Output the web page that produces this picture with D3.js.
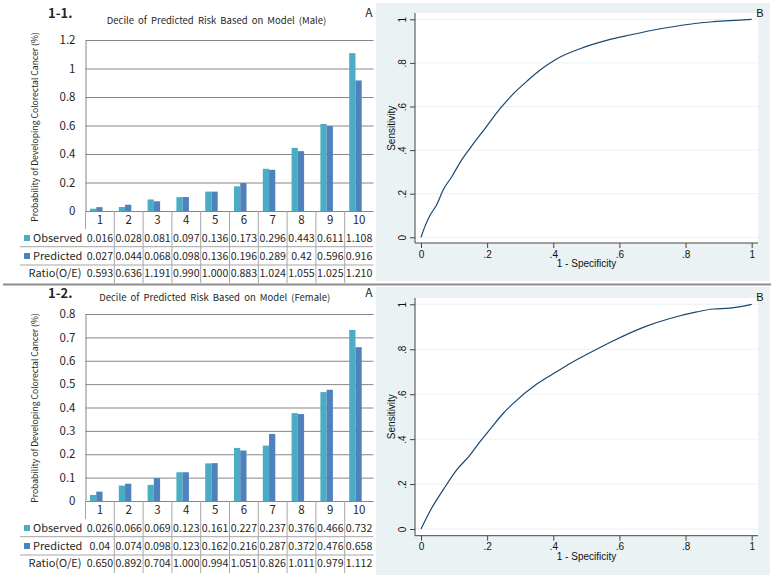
<!DOCTYPE html>
<html>
<head>
<meta charset="utf-8">
<script src="https://cdn.jsdelivr.net/npm/d3@7"></script>
<style>
  body { margin: 0; background: #fff; }
  svg { display: block; }
  .xl text { font-family: "Noto Sans CJK KR", "Noto Sans", sans-serif; fill: #262626; }
  .st text { font-family: "Liberation Sans", Arial, sans-serif; fill: #111; }
</style>
</head>
<body>
<svg id="chart" width="774" height="578"></svg>
<script>
// deciles shared by both tables
const deciles = [1, 2, 3, 4, 5, 6, 7, 8, 9, 10];

// male (1-1)
const maleObserved  = [0.016, 0.028, 0.081, 0.097, 0.136, 0.173, 0.296, 0.443, 0.611, 1.108];
const malePredicted = [0.027, 0.044, 0.068, 0.098, 0.136, 0.196, 0.289, 0.42, 0.596, 0.916];
const maleRatio     = [0.593, 0.636, 1.191, 0.990, 1.000, 0.883, 1.024, 1.055, 1.025, 1.210];
const maleTicks     = [0, 0.2, 0.4, 0.6, 0.8, 1, 1.2];

// female (1-2)
const femaleObserved  = [0.026, 0.066, 0.069, 0.123, 0.161, 0.227, 0.237, 0.376, 0.466, 0.732];
const femalePredicted = [0.04, 0.074, 0.098, 0.123, 0.162, 0.216, 0.287, 0.372, 0.476, 0.658];
const femaleRatio     = [0.650, 0.892, 0.704, 1.000, 0.994, 1.051, 0.826, 1.011, 0.979, 1.112];
const femaleTicks     = [0, 0.1, 0.2, 0.3, 0.4, 0.5, 0.6, 0.7, 0.8];

// ROC curves: [1 - specificity, sensitivity]
const maleRoc = [[0,0],[.012,.05],[.027,.10],[.047,.148],[.067,.217],[.093,.278],[.123,.355],
  [.153,.418],[.194,.50],[.239,.59],[.279,.658],[.319,.714],[.36,.767],[.41,.818],[.481,.865],
  [.561,.903],[.632,.928],[.733,.959],[.834,.982],[.884,.989],[1,1]];
const femaleRoc = [[0,0],[.032,.092],[.067,.174],[.108,.263],[.148,.329],[.178,.388],[.209,.444],
  [.249,.515],[.279,.559],[.35,.645],[.41,.70],[.451,.737],[.531,.80],[.582,.838],[.682,.903],
  [.753,.937],[.834,.966],[.884,.979],[.934,.983],[1,1]];
const rocTicks = [0, 0.2, 0.4, 0.6, 0.8, 1];

const cObs = "#4bacc6", cPred = "#4f81bd";

const svg = d3.select("#chart");

function drawBars(opt) {
  const g = svg.append("g").attr("class", "xl");
  const x = d3.scaleBand().domain(deciles).range([85.5, 373.5]);
  const sub = d3.scaleBand().domain(["obs", "pred"]).range([4.5, 17]);
  const y = d3.scaleLinear().domain([0, opt.ticks[opt.ticks.length - 1]]).range([opt.y0, opt.yTop]);

  g.append("text").attr("x", 48).attr("y", opt.tagY)
    .style("font-size", "13px").style("font-weight", "bold").text(opt.tag);
  g.append("text").attr("x", opt.titleX).attr("y", opt.subY).attr("text-anchor", "middle")
    .style("font-size", "9.5px").style("word-spacing", "2px").text(opt.title);
  g.append("text").attr("x", 369).attr("y", opt.tagY - 1).attr("text-anchor", "middle")
    .style("font-size", "12px").text("A");

  // y axis + gridlines
  const ax = g.append("g").attr("transform", "translate(85.5,0)")
    .call(d3.axisLeft(y).tickValues(opt.ticks).tickSizeInner(-288).tickSizeOuter(0).tickPadding(10)
      .tickFormat(d => String(+d.toFixed(1))));
  ax.select(".domain").attr("stroke", "#868686");
  ax.selectAll(".tick line").attr("stroke", "#868686");
  ax.selectAll(".tick text").style("font-size", "11.5px")
    .style("font-family", "'Noto Sans CJK KR', 'Noto Sans', sans-serif").attr("fill", "#262626");

  g.append("text")
    .attr("transform", `translate(35,${opt.titleY}) rotate(-90)`)
    .attr("text-anchor", "middle").attr("dy", "0.35em")
    .style("font-size", "8.6px").attr("fill", "#404040")
    .text("Probability of Developing Colorectal Cancer (%)");

  const series = [["obs", opt.obs, cObs], ["pred", opt.pred, cPred]];
  series.forEach(([key, vals, col]) => {
    g.selectAll(null).data(vals).enter().append("rect")
      .attr("x", (d, i) => x(deciles[i]) + sub(key))
      .attr("width", sub.bandwidth())
      .attr("y", d => y(d))
      .attr("height", d => opt.y0 - y(d))
      .attr("fill", col);
  });

  // data table
  const y0 = opt.y0;
  const rowY = [y0 + 9, y0 + 27, y0 + 45, y0 + 62.5];
  g.selectAll(null).data(deciles.slice(1)).enter().append("line")
    .attr("x1", d => x(d)).attr("x2", d => x(d))
    .attr("y1", y0).attr("y2", y0 + 72).attr("stroke", "#a6a6a6");
  g.append("line").attr("x1", 85.5).attr("x2", 85.5).attr("y1", y0).attr("y2", y0 + 18).attr("stroke", "#a6a6a6");
  [y0 + 35.7, y0 + 54].forEach(ly => g.append("line").attr("x1", 20).attr("x2", 373.5)
    .attr("y1", ly).attr("y2", ly).attr("stroke", "#a6a6a6"));

  const cx = d => x(d) + x.bandwidth() / 2;
  g.selectAll(null).data(deciles).enter().append("text")
    .attr("x", cx).attr("y", rowY[0]).attr("dy", "0.35em").attr("text-anchor", "middle")
    .style("font-size", "11.5px").text(d => d);

  const rows = [
    [opt.obs, d => String(d)],
    [opt.pred, d => String(d)],
    [opt.ratio, d3.format(".3f")]
  ];
  rows.forEach(([vals, fmt], r) => {
    g.selectAll(null).data(vals).enter().append("text")
      .attr("x", (d, i) => cx(deciles[i])).attr("y", rowY[r + 1]).attr("dy", "0.35em")
      .attr("text-anchor", "middle").style("font-size", "10.6px").text(fmt);
  });

  g.append("rect").attr("x", 24).attr("y", rowY[1] - 3).attr("width", 6).attr("height", 6).attr("fill", cObs);
  g.append("rect").attr("x", 24).attr("y", rowY[2] - 3).attr("width", 6).attr("height", 6).attr("fill", cPred);
  g.append("text").attr("x", 33).attr("y", rowY[1]).attr("dy", "0.35em").style("font-size", "11px").text("Observed");
  g.append("text").attr("x", 33).attr("y", rowY[2]).attr("dy", "0.35em").style("font-size", "11px").text("Predicted");
  g.append("text").attr("x", 81.5).attr("y", rowY[3]).attr("dy", "0.35em").attr("text-anchor", "end")
    .style("font-size", "11px").text("Ratio(O/E)");
}

function drawRoc(opt) {
  const g = svg.append("g").attr("class", "st");
  g.append("rect").attr("x", 376).attr("y", opt.top).attr("width", 394).attr("height", opt.h).attr("fill", "#eaf2f3");
  g.append("rect").attr("x", 415).attr("y", opt.plotTop).attr("width", 343)
    .attr("height", opt.axisY - opt.plotTop).attr("fill", "#fff");

  const x = d3.scaleLinear().domain([0, 1]).range([421, 751.7]);
  const y = d3.scaleLinear().domain([0, 1]).range([opt.yZero, opt.yOne]);
  const fmt = d => d === 0 ? "0" : d === 1 ? "1" : String(+d.toFixed(1)).replace("0.", ".");

  g.selectAll(null).data(rocTicks).enter().append("line")
    .attr("x1", 415).attr("x2", 758).attr("y1", d => y(d)).attr("y2", d => y(d))
    .attr("stroke", "#eaf2f3").attr("stroke-width", 1);

  const xa = g.append("g").attr("transform", `translate(0,${opt.axisY})`)
    .call(d3.axisBottom(x).tickValues(rocTicks).tickSize(5).tickFormat(fmt));
  xa.select(".domain").attr("d", `M415,0H758`).attr("stroke", "#444");
  xa.selectAll(".tick line").attr("stroke", "#444");
  xa.selectAll(".tick text").style("font-size", "10px").style("font-family", "'Liberation Sans', Arial, sans-serif").attr("fill", "#111").attr("dy", "0.65em");

  const ya = g.append("g").attr("transform", "translate(415,0)")
    .call(d3.axisLeft(y).tickValues(rocTicks).tickSize(5).tickFormat(fmt));
  ya.select(".domain").attr("d", `M0,${opt.plotTop}V${opt.axisY}`).attr("stroke", "#444");
  ya.selectAll(".tick line").attr("stroke", "#444");
  ya.selectAll(".tick text").attr("x", 0).attr("dy", 0).attr("text-anchor", "middle")
    .attr("transform", "translate(-9,0) rotate(-90)")
    .style("font-size", "10px").style("font-family", "'Liberation Sans', Arial, sans-serif").attr("fill", "#111");

  g.append("path").datum(opt.data)
    .attr("d", d3.line().curve(d3.curveMonotoneX).x(d => x(d[0])).y(d => y(d[1])))
    .attr("fill", "none").attr("stroke", "#1a476f").attr("stroke-width", 1.2);

  g.append("text").attr("x", 586.5).attr("y", opt.axisY + 24).attr("text-anchor", "middle")
    .style("font-size", "10px").text("1 - Specificity");
  g.append("text").attr("transform", `translate(391,${(opt.yZero + opt.yOne) / 2}) rotate(-90)`)
    .attr("text-anchor", "middle").attr("dy", "0.35em").style("font-size", "10px").text("Sensitivity");
  g.append("text").attr("x", 760).attr("y", opt.top + 14).attr("text-anchor", "middle")
    .style("font-size", "11px").text("B");
}

drawBars({ tag: "1-1.", title: "Decile of Predicted Risk Based on Model (Male)", titleX: 216.5,
  tagY: 17.5, subY: 23.5, y0: 211, yTop: 40, titleY: 127, ticks: maleTicks,
  obs: maleObserved, pred: malePredicted, ratio: maleRatio });
drawBars({ tag: "1-2.", title: "Decile of Predicted Risk Based on Model (Female)", titleX: 214.7,
  tagY: 298, subY: 300.8, y0: 501, yTop: 314, titleY: 408, ticks: femaleTicks,
  obs: femaleObserved, pred: femalePredicted, ratio: femaleRatio });

drawRoc({ top: 3, h: 278, plotTop: 13, axisY: 243, yZero: 237.3, yOne: 19.3, data: maleRoc });
drawRoc({ top: 287, h: 288, plotTop: 298, axisY: 535.7, yZero: 529, yOne: 304.3, data: femaleRoc });

// divider between the two figures
svg.append("line").attr("x1", 3).attr("x2", 771).attr("y1", 284.5).attr("y2", 284.5)
  .attr("stroke", "#8c8c8c").attr("stroke-width", 2);
</script>
</body>
</html>
